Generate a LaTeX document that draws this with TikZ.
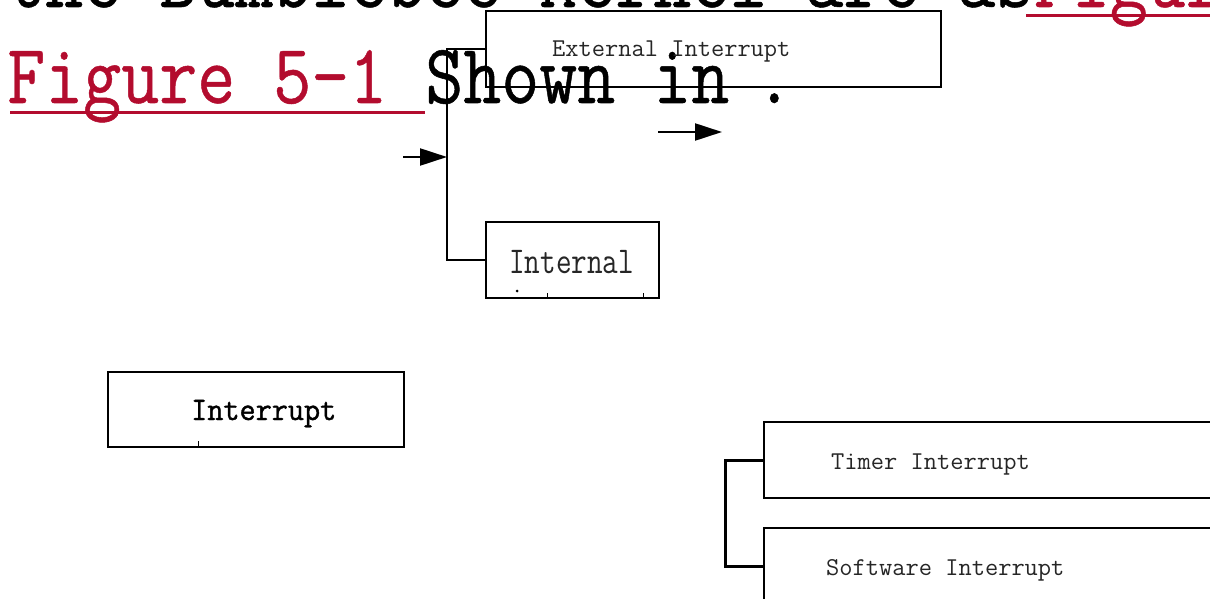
\documentclass[tikz,border=0pt]{standalone}
\usepackage{fontspec}
\setmonofont{Latin Modern Mono}
\newfontfamily\ttheavy{Latin Modern Mono}[FakeBold=1.2]
\newfontfamily\ttsemi{Latin Modern Mono}[FakeBold=0.6]
\usetikzlibrary{arrows.meta}
\definecolor{linkred}{HTML}{B30C2E}
\begin{document}
\begin{tikzpicture}[x=1pt,y=-1pt,
  box/.style={draw, line width=2pt, rectangle, inner sep=0pt, anchor=north west},
  bigtext/.style={inner sep=0pt, anchor=base west, font=\ttsemi\fontsize{73.8}{80}\selectfont},
  smalltext/.style={inner sep=0pt, anchor=base west, text=black!85, font=\ttfamily\fontsize{25.7}{30}\selectfont},
  midtext/.style={inner sep=0pt, anchor=base west, text=black!85, font=\ttfamily\fontsize{30.3}{34}\selectfont},
  bus/.style={line width=2.4pt},
  feed/.style={line width=2.2pt, -{Triangle[length=27pt,width=17pt]}},
  tick/.style={line width=1pt},
]
\useasboundingbox (0,0) rectangle (1210,599);
\clip (0,0) rectangle (1210,599);

% running paragraph text
\node[bigtext] (lineA) at (7,7) {\scalebox{1}[1.15]{the Bumblebee Kernel are as}};
\node[bigtext, text=linkred] (lineAref) at (lineA.base east) {\scalebox{1}[1.15]{Figure 5-1}};
\node[bigtext] (lineB) at (7,103) {\scalebox{1}[1.15]{\textcolor{linkred}{Figure 5-1 }Shown in \kern-12pt.}};
\fill[linkred] (1026,14) rectangle (1210,17.5);
\fill[linkred] (10,111) rectangle (425,114.5);

% boxes
\node[box, minimum width=455pt, minimum height=76pt] (ext) at (485,10) {};
\node[box, minimum width=173pt, minimum height=76pt] (intl) at (485,221) {};
\node[box, minimum width=296pt, minimum height=75pt] (irq) at (107,371) {};
\node[box, minimum width=500pt, minimum height=76pt] (timer) at (763,421) {};
\node[box, minimum width=500pt, minimum height=76pt] (soft) at (763,527) {};

% box labels
\node[smalltext] (extlbl) at (552,57) {External Interrupt};
\node[midtext] (intllbl) at (509,273) {\scalebox{1}[1.25]{Internal}};
\node[midtext, font=\ttheavy\fontsize{31.3}{34}\selectfont, text=black] (irqlbl) at (191,420) {\scalebox{1}[1.05]{Interrupt}};
\node[smalltext] (timerlbl) at (831,469) {Timer Interrupt};
\node[smalltext] (softlbl) at (826,575) {Software Interrupt};

% small marks along the lower edges
\fill (517,291) circle (1.5);
\draw[tick] (547,293) -- (547,297);
\draw[tick] (643,293) -- (643,297);
\draw[tick] (198,441) -- (198,446);

% connectors
\draw[bus] (ext.west) -- ++(-38,0) coordinate (bustop) |- (intl.west);
\coordinate (feedin) at (bustop |- 0,157);
\coordinate (feedsrc) at (403,157);
\draw[feed] (feedsrc) -- (feedin);
\coordinate (outsrc) at (658,132);
\coordinate (outdst) at (722,132);
\draw[feed] (outsrc) -- (outdst);
\draw[line width=3pt] (timer.west) -- ++(-38,0) |- (soft.west);
\end{tikzpicture}
\end{document}
